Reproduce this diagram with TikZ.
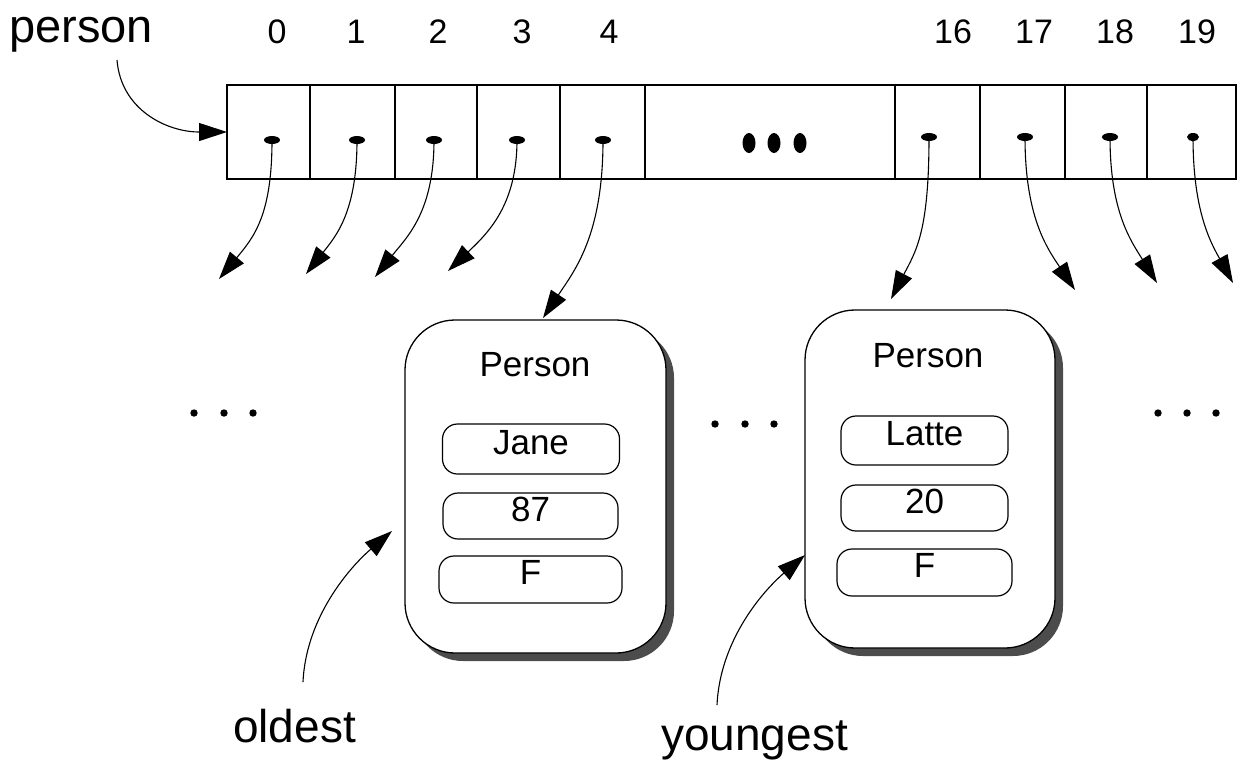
\documentclass[tikz,border=0pt]{standalone}
\usepackage{fontspec}
\setmainfont{Liberation Sans}
\usetikzlibrary{arrows.meta,shapes.geometric,shadows}

\begin{document}
\begin{tikzpicture}[x=1pt,y=-1pt,
  cell/.style={draw, line width=2.6pt, minimum height=94pt, inner sep=0pt, outer sep=0pt},
  refdot/.style={ellipse, fill=black, inner sep=0pt, minimum width=16pt, minimum height=8pt},
  ptr/.style={line width=1.1pt, -{Triangle[length=28pt,width=18pt]}},
  idx/.style={font=\fontsize{34}{40}\selectfont, anchor=base, inner sep=0pt},
  biglabel/.style={font=\fontsize{47}{56}\selectfont, anchor=base west, inner sep=0pt},
  record/.style={draw, line width=1.3pt, rounded corners=50pt, fill=white,
    drop shadow={shadow xshift=8pt, shadow yshift=-8pt, fill=black!70, opacity=1}},
  field/.style={draw, line width=1.2pt, rounded corners=15pt, fill=white,
    font=\fontsize{35}{42}\selectfont, text height=17pt, text depth=7pt, inner sep=0pt},
  rectitle/.style={font=\fontsize{35}{42}\selectfont, anchor=base, inner sep=0pt},
]
\useasboundingbox (0,0) rectangle (1238,764);

% variable name and index labels
\node[biglabel] (pname) at (9,42) {person};
\foreach \i/\x in {0/277,1/356,2/438,3/522,4/609,16/953,17/1034,18/1115,19/1197}
  \node[idx] (ix\i) at (\x,43) {\i};

% the array of references
\node[cell, minimum width=83pt] (c0) at (268.5,132) {};
\node[cell, minimum width=85pt] (c1) at (352.5,132) {};
\node[cell, minimum width=82pt] (c2) at (436,132) {};
\node[cell, minimum width=83pt] (c3) at (518.5,132) {};
\node[cell, minimum width=85pt] (c4) at (602.5,132) {};
\node[cell, minimum width=250pt] (cmid) at (770,132) {};
\node[cell, minimum width=85pt] (c16) at (937.5,132) {};
\node[cell, minimum width=85pt] (c17) at (1022.5,132) {};
\node[cell, minimum width=82pt] (c18) at (1106,132) {};
\node[cell, minimum width=89pt] (c19) at (1191.5,132) {};

% elided cells
\fill (749,143) ellipse (6.5 and 10);
\fill (774,143) ellipse (6.5 and 10);
\fill (800,143) ellipse (6.5 and 10);

% reference dots
\node[refdot] (d0) at (272,140) {};
\node[refdot] (d1) at (357,140) {};
\node[refdot] (d2) at (434,140) {};
\node[refdot] (d3) at (517,140) {};
\node[refdot] (d4) at (603,140) {};
\node[refdot] (d16) at (929,137) {};
\node[refdot] (d17) at (1025,137) {};
\node[refdot] (d18) at (1110,137) {};
\node[refdot, minimum width=12pt] (d19) at (1193,137) {};

% the two Person objects
\node[record, minimum width=261pt, minimum height=333pt] (p1) at (535.5,486.5) {};
\node[rectitle] (p1t) at (535,376) {Person};
\node[field, minimum width=177pt, minimum height=50pt] (p1n) at (531,449) {Jane};
\node[field, minimum width=175pt, minimum height=46pt] (p1a) at (530.5,516) {87};
\node[field, minimum width=183pt, minimum height=47pt] (p1g) at (530.5,579.5) {F};

\node[record, minimum width=250pt, minimum height=338pt] (p2) at (930,479) {};
\node[rectitle] (p2t) at (928,367) {Person};
\node[field, minimum width=167pt, minimum height=49pt] (p2n) at (924.5,440.5) {Latte};
\node[field, minimum width=167pt, minimum height=46pt] (p2a) at (924.5,508) {20};
\node[field, minimum width=175pt, minimum height=47pt] (p2g) at (924.5,572.5) {F};

% omitted objects
\foreach \x/\y in {194/413,224/413,253/413,715/424,745/424,774/424,1158/413,1187/413,1216/413}
  \fill (\x,\y) circle (3.7);

% free ends of the references
\coordinate (pstart) at (117,60);
\coordinate (t0) at (219,279);
\coordinate (t1) at (306,274);
\coordinate (t2) at (375,277);
\coordinate (t3) at (448,271);
\coordinate (t4) at (543,318);
\coordinate (t16) at (891,299);
\coordinate (t17) at (1075,290);
\coordinate (t18) at (1157,283);
\coordinate (t19) at (1233,283);

\draw[ptr] (pstart) .. controls +(4,50) and +(-60,0) .. (c0.west);
\draw[ptr] (d0.center) .. controls +(0,75) and +(35,-42) .. (t0);
\draw[ptr] (d1.center) .. controls +(0,72) and +(30,-38) .. (t1);
\draw[ptr] (d2.center) .. controls +(0,72) and +(32,-40) .. (t2);
\draw[ptr] (d3.center) .. controls +(0,65) and +(40,-38) .. (t3);
\draw[ptr] (d4.center) .. controls +(0,95) and +(32,-48) .. (t4);
\draw[ptr] (d16.center) .. controls +(0,95) and +(25,-48) .. (t16);
\draw[ptr] (d17.center) .. controls +(0,80) and +(-28,-42) .. (t17);
\draw[ptr] (d18.center) .. controls +(0,75) and +(-26,-42) .. (t18);
\draw[ptr] (d19.center) .. controls +(0,75) and +(-22,-40) .. (t19);

% labelled references to the oldest and youngest
\node[biglabel, font=\fontsize{46}{55}\selectfont] (old) at (233,742) {oldest};
\node[biglabel, font=\fontsize{46}{55}\selectfont] (young) at (661,750) {youngest};
\coordinate (oldstart) at (303,682);
\coordinate (oldtip) at (392,531);
\coordinate (youngstart) at (717,705);
\coordinate (youngtip) at (805,555);
\draw[ptr] (oldstart) .. controls +(3,-65) and +(-42,36) .. (oldtip);
\draw[ptr] (youngstart) .. controls +(3,-65) and +(-42,36) .. (youngtip);
\end{tikzpicture}
\end{document}
